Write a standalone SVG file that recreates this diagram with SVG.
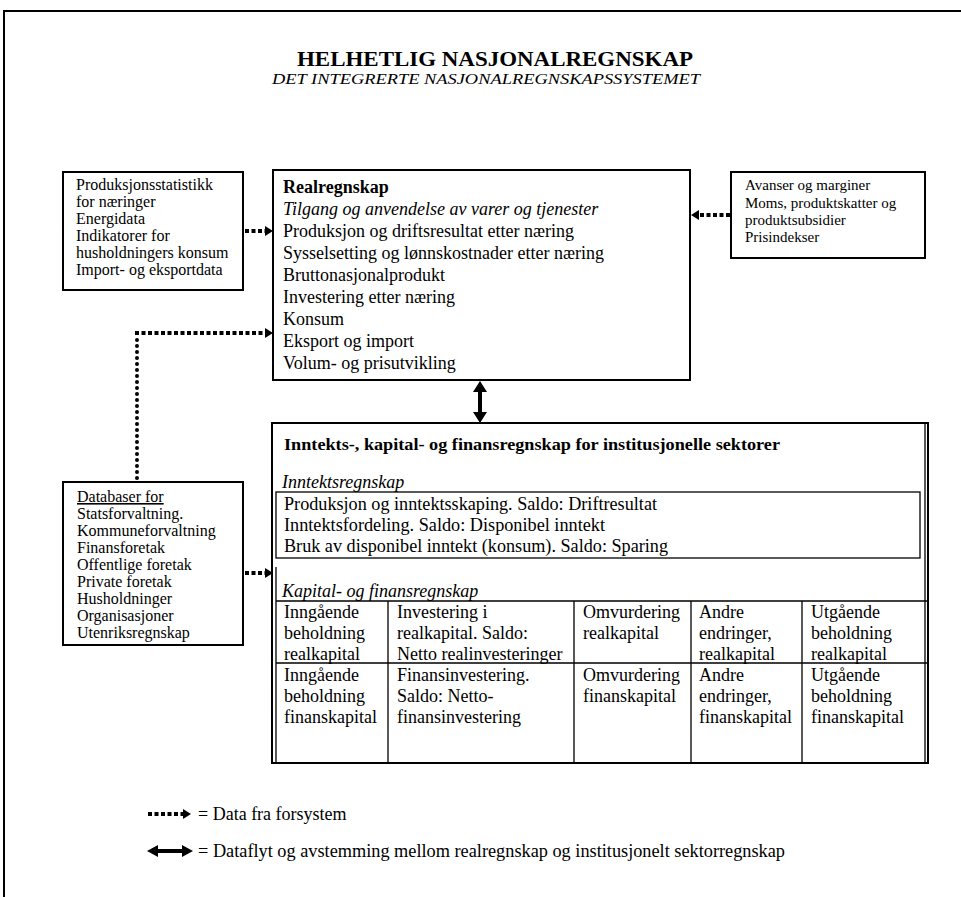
<svg xmlns="http://www.w3.org/2000/svg" width="961" height="897" viewBox="0 0 961 897">
<style>
.box{fill:#fff;stroke:#000;stroke-width:2}
.thin{fill:none;stroke:#000;stroke-width:1.3}
.t15{font-size:15px}
.t16{font-size:16px}
.t18{font-size:18px}
.dash{fill:none;stroke:#000;stroke-width:4;stroke-dasharray:4 2.5}
.dot{fill:none;stroke:#000;stroke-width:4;stroke-dasharray:0 6;stroke-linecap:round}
.dbl{fill:none;stroke:#000;stroke-width:4}
</style>
<rect width="961" height="897" fill="#fff"/>
<path d="M4,897 V11 H961" fill="none" stroke="#000" stroke-width="2"/>
<g font-family="Liberation Serif, Times New Roman, serif" fill="#000">
<g id="title">
<text x="297" y="66" font-size="22" font-weight="bold" textLength="396" lengthAdjust="spacingAndGlyphs">HELHETLIG NASJONALREGNSKAP</text>
<text x="272" y="84" font-size="15" font-style="italic" textLength="428" lengthAdjust="spacingAndGlyphs">DET INTEGRERTE NASJONALREGNSKAPSSYSTEMET</text>
</g>

<g id="connectors">
<path class="dash" d="M245,231 H265"/>
<path d="M265,226 L273,231 L265,236 z"/>
<path class="dash" d="M730,215 H699"/>
<path d="M699,210 L691,215 L699,220 z"/>
<path class="dot" d="M137,478 V337"/>
<path class="dash" d="M135,333 H265"/>
<path d="M265,328 L273,333 L265,338 z"/>
<path class="dash" d="M245,573 H265"/>
<path d="M265,568 L273,573 L265,578 z"/>
<path class="dbl" d="M480,390 V414"/>
<path d="M473,392 L480,381 L487,392 z M473,412 L480,423 L487,412 z"/>
</g>

<g id="node-produksjon">
<rect class="box" x="63" y="172" width="180" height="118"/>
<text class="t16" x="76" y="190">Produksjonsstatistikk</text>
<text class="t16" x="76" y="207">for næringer</text>
<text class="t16" x="76" y="224">Energidata</text>
<text class="t16" x="76" y="241">Indikatorer for</text>
<text class="t16" x="76" y="258">husholdningers konsum</text>
<text class="t16" x="76" y="275">Import- og eksportdata</text>
</g>

<g id="node-realregnskap">
<rect class="box" x="273" y="170" width="417" height="210"/>
<text class="t18" x="283" y="193" font-weight="bold">Realregnskap</text>
<text class="t18" x="283" y="215" font-style="italic">Tilgang og anvendelse av varer og tjenester</text>
<text class="t18" x="283" y="237">Produksjon og driftsresultat etter næring</text>
<text class="t18" x="283" y="259">Sysselsetting og lønnskostnader etter næring</text>
<text class="t18" x="283" y="281">Bruttonasjonalprodukt</text>
<text class="t18" x="283" y="303">Investering etter næring</text>
<text class="t18" x="283" y="325">Konsum</text>
<text class="t18" x="283" y="347">Eksport og import</text>
<text class="t18" x="283" y="369">Volum- og prisutvikling</text>
</g>

<g id="node-avanser">
<rect class="box" x="731" y="172" width="194" height="86"/>
<text class="t15" x="745" y="190">Avanser og marginer</text>
<text class="t15" x="745" y="208">Moms, produktskatter og</text>
<text class="t15" x="745" y="225">produktsubsidier</text>
<text class="t15" x="745" y="242">Prisindekser</text>
</g>

<g id="node-databaser">
<rect class="box" x="63" y="482" width="180" height="163"/>
<text class="t16" x="77" y="502" text-decoration="underline">Databaser for</text>
<text class="t16" x="77" y="519">Statsforvaltning.</text>
<text class="t16" x="77" y="536">Kommuneforvaltning</text>
<text class="t16" x="77" y="553">Finansforetak</text>
<text class="t16" x="77" y="570">Offentlige foretak</text>
<text class="t16" x="77" y="587">Private foretak</text>
<text class="t16" x="77" y="604">Husholdninger</text>
<text class="t16" x="77" y="621">Organisasjoner</text>
<text class="t16" x="77" y="638">Utenriksregnskap</text>
</g>

<g id="node-sektor">
<rect class="box" x="272" y="423" width="656" height="340"/>
<path class="thin" d="M276,567 V763 M925,423 V763"/>
<text x="284" y="450" font-size="17" font-weight="bold" textLength="496" lengthAdjust="spacingAndGlyphs">Inntekts-, kapital- og finansregnskap for institusjonelle sektorer</text>
<text class="t18" x="282" y="488" font-style="italic">Inntektsregnskap</text>
<rect class="thin" x="276" y="492" width="644" height="66"/>
<text class="t18" x="284" y="510" textLength="373" lengthAdjust="spacingAndGlyphs">Produksjon og inntektsskaping. Saldo: Driftresultat</text>
<text class="t18" x="284" y="531" textLength="321" lengthAdjust="spacingAndGlyphs">Inntektsfordeling. Saldo: Disponibel inntekt</text>
<text class="t18" x="284" y="552" textLength="384" lengthAdjust="spacingAndGlyphs">Bruk av disponibel inntekt (konsum). Saldo: Sparing</text>
<text class="t18" x="282" y="597" font-style="italic">Kapital- og finansregnskap</text>
<path class="thin" d="M276,601 H928 M276,663 H928 M388,601 V763 M574,601 V763 M691,601 V763 M802,601 V763"/>
<g class="t18">
<text x="284" y="618">Inngående</text><text x="284" y="639">beholdning</text><text x="284" y="660">realkapital</text>
<text x="397" y="618">Investering i</text><text x="397" y="639">realkapital. Saldo:</text><text x="397" y="660">Netto realinvesteringer</text>
<text x="583" y="618">Omvurdering</text><text x="583" y="639">realkapital</text>
<text x="699" y="618">Andre</text><text x="699" y="639">endringer,</text><text x="699" y="660">realkapital</text>
<text x="811" y="618">Utgående</text><text x="811" y="639">beholdning</text><text x="811" y="660">realkapital</text>
<text x="284" y="681">Inngående</text><text x="284" y="702">beholdning</text><text x="284" y="723">finanskapital</text>
<text x="397" y="681">Finansinvestering.</text><text x="397" y="702">Saldo: Netto-</text><text x="397" y="723">finansinvestering</text>
<text x="583" y="681">Omvurdering</text><text x="583" y="702">finanskapital</text>
<text x="699" y="681">Andre</text><text x="699" y="702">endringer,</text><text x="699" y="723">finanskapital</text>
<text x="811" y="681">Utgående</text><text x="811" y="702">beholdning</text><text x="811" y="723">finanskapital</text>
</g>
</g>

<g id="legend">
<path class="dash" d="M148,814 H183"/>
<path d="M183,809 L191,814 L183,819 z"/>
<text class="t18" x="198" y="820">= Data fra forsystem</text>
<path class="dbl" d="M156,851 H184"/>
<path d="M158,845 L147,851 L158,857 z M182,845 L193,851 L182,857 z"/>
<text class="t18" x="198" y="857" textLength="587" lengthAdjust="spacingAndGlyphs">= Dataflyt og avstemming mellom realregnskap og institusjonelt sektorregnskap</text>
</g>
</g>
</svg>
